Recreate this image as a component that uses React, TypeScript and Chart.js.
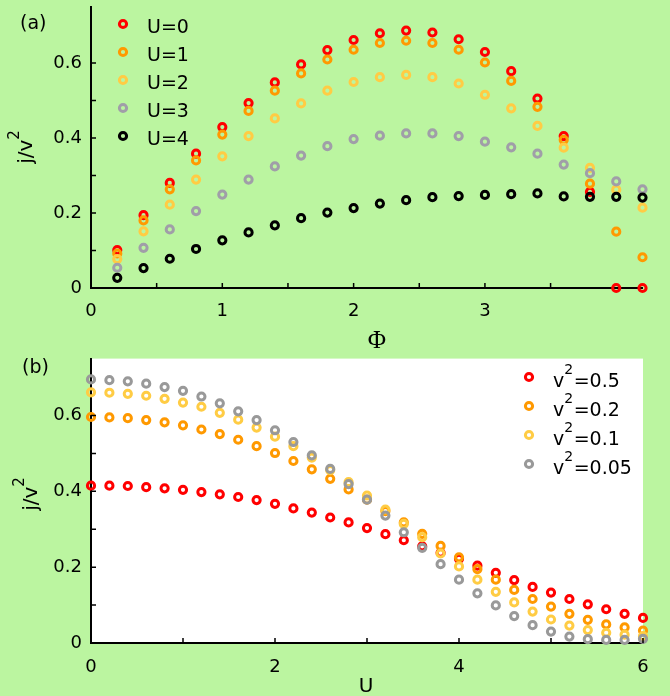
import React, { useEffect, useRef } from 'react';
import { Chart, registerables } from 'chart.js';

Chart.register(...registerables);

// ---------- Panel (a) data ----------
const PHI = [0.2, 0.4, 0.6, 0.8, 1.0, 1.2, 1.4, 1.6, 1.8, 2.0, 2.2, 2.4, 2.6, 2.8, 3.0, 3.2, 3.4, 3.6, 3.8, 4.0, 4.2];
const U_SERIES_LABELS = ['U=0', 'U=1', 'U=2', 'U=3', 'U=4'];
const J_U0 = [0.101, 0.194, 0.280, 0.358, 0.429, 0.493, 0.548, 0.596, 0.634, 0.661, 0.679, 0.686, 0.681, 0.663, 0.629, 0.578, 0.505, 0.405, 0.256, 0.0, 0.0];
const J_U1 = [0.092, 0.180, 0.263, 0.340, 0.409, 0.472, 0.526, 0.572, 0.609, 0.635, 0.653, 0.659, 0.653, 0.635, 0.601, 0.552, 0.483, 0.395, 0.278, 0.150, 0.082];
const J_U2 = [0.077, 0.151, 0.222, 0.289, 0.351, 0.405, 0.452, 0.492, 0.526, 0.549, 0.562, 0.568, 0.562, 0.545, 0.515, 0.479, 0.432, 0.374, 0.320, 0.262, 0.214];
const J_U3 = [0.054, 0.107, 0.156, 0.205, 0.249, 0.289, 0.324, 0.353, 0.378, 0.397, 0.406, 0.412, 0.412, 0.405, 0.390, 0.375, 0.358, 0.329, 0.306, 0.284, 0.263];
const J_U4 = [0.027, 0.053, 0.078, 0.104, 0.127, 0.148, 0.167, 0.186, 0.201, 0.213, 0.225, 0.234, 0.242, 0.245, 0.248, 0.250, 0.252, 0.244, 0.243, 0.243, 0.241];

// ---------- Panel (b) data ----------
const U_VALUES = [0, 0.2, 0.4, 0.6, 0.8, 1.0, 1.2, 1.4, 1.6, 1.8, 2.0, 2.2, 2.4, 2.6, 2.8, 3.0, 3.2, 3.4, 3.6, 3.8, 4.0, 4.2, 4.4, 4.6, 4.8, 5.0, 5.2, 5.4, 5.6, 5.8, 6.0];
const V2_SERIES_LABELS = ['v^2=0.5', 'v^2=0.2', 'v^2=0.1', 'v^2=0.05'];
const J_V05 = [0.415, 0.415, 0.414, 0.411, 0.408, 0.404, 0.398, 0.392, 0.385, 0.377, 0.367, 0.355, 0.344, 0.331, 0.318, 0.303, 0.287, 0.271, 0.255, 0.238, 0.222, 0.204, 0.185, 0.166, 0.148, 0.133, 0.116, 0.102, 0.089, 0.077, 0.066];
const J_V02 = [0.596, 0.595, 0.593, 0.588, 0.582, 0.574, 0.563, 0.551, 0.536, 0.519, 0.501, 0.480, 0.458, 0.433, 0.405, 0.378, 0.348, 0.318, 0.288, 0.256, 0.226, 0.195, 0.167, 0.140, 0.116, 0.096, 0.077, 0.061, 0.049, 0.041, 0.033];
const J_V01 = [0.661, 0.660, 0.657, 0.652, 0.644, 0.634, 0.623, 0.607, 0.589, 0.568, 0.544, 0.519, 0.489, 0.456, 0.424, 0.389, 0.352, 0.314, 0.279, 0.236, 0.202, 0.167, 0.135, 0.107, 0.083, 0.062, 0.046, 0.034, 0.027, 0.022, 0.018];
const J_V005 = [0.695, 0.693, 0.690, 0.684, 0.675, 0.665, 0.650, 0.632, 0.611, 0.588, 0.561, 0.530, 0.495, 0.459, 0.419, 0.378, 0.336, 0.292, 0.251, 0.208, 0.167, 0.131, 0.099, 0.071, 0.047, 0.030, 0.017, 0.010, 0.008, 0.008, 0.011];

// ---------- Tick labels ----------
const Y_TICK_LABELS = ['0', '0.2', '0.4', '0.6'];
const PHI_TICK_LABELS = ['0', '1', '2', '3', '4'];
const U_TICK_LABELS = ['0', '2', '4', '6'];

const BG = '#bbf5a0';
const COLORS_A = ['#ff0000', '#ff9900', '#ffcc44', '#a09ea8', '#000000'];
const COLORS_B = ['#ff0000', '#ff9900', '#ffcc44', '#999999'];
const SANS = '"DejaVu Sans", "Liberation Sans", sans-serif';
const SERIF = '"Liberation Serif", "DejaVu Serif", serif';
const PT_R = 3.6;
const PT_W = 3;

function drawRich(ctx: CanvasRenderingContext2D, text: string, x: number, y: number, size: number, align: 'left' | 'center') {
  const parts: { t: string; sup: boolean }[] = [];
  for (let i = 0; i < text.length; i++) {
    if (text[i] === '^') {
      parts.push({ t: text[i + 1], sup: true });
      i++;
    } else {
      const last = parts[parts.length - 1];
      if (last && !last.sup) last.t += text[i];
      else parts.push({ t: text[i], sup: false });
    }
  }
  const supSize = Math.round(size * 0.76);
  const widths = parts.map((p) => {
    ctx.font = `${p.sup ? supSize : size}px ${SANS}`;
    return ctx.measureText(p.t).width;
  });
  const total = widths.reduce((a, b) => a + b, 0);
  let cx = align === 'center' ? x - total / 2 : x;
  ctx.textAlign = 'left';
  ctx.textBaseline = 'alphabetic';
  parts.forEach((p, i) => {
    ctx.font = `${p.sup ? supSize : size}px ${SANS}`;
    ctx.fillText(p.t, cx, p.sup ? y - size * 0.66 : y);
    cx += widths[i] + (p.sup ? 0.5 : 0);
  });
}

type PanelOpts = {
  white: boolean;
  tag: string;
  tagX: number;
  tagY: number;
  yTitleX: number;
  yTitleY: number;
  xTitle: string;
  xTitleFont: string;
  xTitleX: number;
  xTitleY: number;
  legendX: number;
  legendTextX: number;
  legendRows: number[];
  legendDy: number;
  legendSize: number;
};

function panelPlugin(o: PanelOpts) {
  return {
    id: 'panelDecor',
    beforeDraw(chart: any) {
      if (!o.white) return;
      const { left, right, top, bottom } = chart.chartArea;
      const ctx = chart.ctx;
      ctx.save();
      ctx.fillStyle = '#ffffff';
      ctx.fillRect(left, top, right - left, bottom - top);
      ctx.restore();
    },
    afterDraw(chart: any) {
      const ctx: CanvasRenderingContext2D = chart.ctx;
      const xs = chart.scales.x;
      const ys = chart.scales.y;
      const { left, bottom } = chart.chartArea;
      ctx.save();
      // inward tick marks
      ctx.strokeStyle = '#000';
      ctx.lineWidth = 1.5;
      ctx.beginPath();
      xs.ticks.forEach((t: any) => {
        const px = xs.getPixelForValue(t.value);
        ctx.moveTo(px, bottom);
        ctx.lineTo(px, bottom - 5);
      });
      ys.ticks.forEach((t: any) => {
        const py = ys.getPixelForValue(t.value);
        ctx.moveTo(left, py);
        ctx.lineTo(left + 5, py);
      });
      ctx.stroke();

      // legend
      chart.data.datasets.forEach((ds: any, i: number) => {
        const y = o.legendRows[i];
        ctx.beginPath();
        ctx.arc(o.legendX, y, PT_R, 0, Math.PI * 2);
        ctx.lineWidth = PT_W;
        ctx.strokeStyle = ds.borderColor;
        ctx.stroke();
        ctx.fillStyle = '#000';
        drawRich(ctx, ds.label, o.legendTextX, y + o.legendDy, o.legendSize, 'left');
      });

      // panel tag
      ctx.fillStyle = '#000';
      ctx.font = `19px ${SANS}`;
      ctx.textAlign = 'left';
      ctx.textBaseline = 'alphabetic';
      ctx.fillText(o.tag, o.tagX, o.tagY);

      // y title
      ctx.save();
      ctx.translate(o.yTitleX, o.yTitleY);
      ctx.rotate(-Math.PI / 2);
      drawRich(ctx, 'j/v^2', 0, 0, 20, 'center');
      ctx.restore();

      // x title
      ctx.font = o.xTitleFont;
      ctx.textAlign = 'center';
      ctx.textBaseline = 'alphabetic';
      ctx.fillText(o.xTitle, o.xTitleX, o.xTitleY);
      ctx.restore();
    },
  };
}

function isMultiple(v: number, step: number) {
  const k = v / step;
  return Math.abs(k - Math.round(k)) < 1e-6;
}

function makeConfig(p: {
  xs: number[];
  series: number[][];
  labels: string[];
  colors: string[];
  xMax: number;
  xStep: number;
  xLabel: (v: number) => string;
  xPad: number;
  padding: { left: number; right: number; top: number; bottom: number };
  yWidth: number;
  xHeight: number;
  plugin: any;
}) {
  const tickFont = { family: SANS, size: 18 };
  return {
    type: 'scatter' as const,
    data: {
      datasets: p.series.map((ys, i) => ({
        label: p.labels[i],
        data: p.xs.map((x, k) => ({ x, y: ys[k] })),
        borderColor: p.colors[i],
        backgroundColor: 'rgba(0,0,0,0)',
        pointStyle: 'circle',
        pointRadius: PT_R,
        pointHoverRadius: PT_R,
        pointBorderWidth: PT_W,
        showLine: false,
        clip: false as any,
        order: p.series.length - 1 - i,
      })),
    },
    options: {
      responsive: false,
      animation: false as const,
      devicePixelRatio: 1,
      events: [] as any[],
      layout: { padding: p.padding },
      plugins: { legend: { display: false }, tooltip: { enabled: false } },
      scales: {
        x: {
          type: 'linear' as const,
          min: 0,
          max: p.xMax,
          z: 1,
          afterBuildTicks: (s: any) => {
            s.ticks = s.ticks.filter((t: any) => isMultiple(t.value, p.xStep));
          },
          afterFit: (s: any) => {
            s.height = p.xHeight;
            s.paddingLeft = 0;
            s.paddingRight = 0;
          },
          grid: { drawOnChartArea: false, drawTicks: false },
          border: { display: true, color: '#000', width: 2 },
          ticks: {
            stepSize: p.xStep,
            autoSkip: false,
            maxRotation: 0,
            padding: p.xPad,
            color: '#000',
            font: tickFont,
            callback: (v: any) => p.xLabel(Number(v)),
          },
        },
        y: {
          type: 'linear' as const,
          min: 0,
          max: 0.75,
          z: 1,
          afterBuildTicks: (s: any) => {
            s.ticks = s.ticks.filter((t: any) => isMultiple(t.value, 0.1));
          },
          afterFit: (s: any) => {
            s.width = p.yWidth;
            s.paddingTop = 0;
            s.paddingBottom = 0;
          },
          grid: { drawOnChartArea: false, drawTicks: false },
          border: { display: true, color: '#000', width: 2 },
          ticks: {
            stepSize: 0.1,
            autoSkip: false,
            padding: 9,
            color: '#000',
            font: tickFont,
            callback: (v: any) => {
              const k = Math.round(Number(v) * 10);
              return k % 2 === 0 ? Y_TICK_LABELS[k / 2] ?? '' : '';
            },
          },
        },
      },
    },
    plugins: [p.plugin],
  };
}

export default function App() {
  const refA = useRef<HTMLCanvasElement>(null);
  const refB = useRef<HTMLCanvasElement>(null);

  useEffect(() => {
    const cfgA = makeConfig({
      xs: PHI,
      series: [J_U0, J_U1, J_U2, J_U3, J_U4],
      labels: U_SERIES_LABELS,
      colors: COLORS_A,
      xMax: 4.2,
      xStep: 0.5,
      xLabel: (v) => (isMultiple(v, 1) ? PHI_TICK_LABELS[Math.round(v)] ?? '' : ''),
      xPad: 13,
      padding: { left: 0, right: 27.5, top: 5.6, bottom: 0 },
      yWidth: 91,
      xHeight: 64,
      plugin: panelPlugin({
        white: false,
        tag: '(a)',
        tagX: 20,
        tagY: 29,
        yTitleX: 32,
        yTitleY: 147,
        xTitle: 'Φ',
        xTitleFont: `25px ${SERIF}`,
        xTitleX: 377,
        xTitleY: 348,
        legendX: 123,
        legendTextX: 147,
        legendRows: [24, 52, 80, 108, 136],
        legendDy: 8.5,
        legendSize: 19,
      }),
    });
    const cfgB = makeConfig({
      xs: U_VALUES,
      series: [J_V05, J_V02, J_V01, J_V005],
      labels: V2_SERIES_LABELS,
      colors: COLORS_B,
      xMax: 6,
      xStep: 1,
      xLabel: (v) => (isMultiple(v, 2) ? U_TICK_LABELS[Math.round(v / 2)] ?? '' : ''),
      xPad: 14,
      padding: { left: 0, right: 27, top: 1, bottom: 0 },
      yWidth: 91,
      xHeight: 53,
      plugin: panelPlugin({
        white: true,
        tag: '(b)',
        tagX: 22,
        tagY: 21,
        yTitleX: 37,
        yTitleY: 142,
        xTitle: 'U',
        xTitleFont: `20px ${SANS}`,
        xTitleX: 366,
        xTitleY: 340,
        legendX: 529,
        legendTextX: 553,
        legendRows: [25, 54, 83, 112],
        legendDy: 9.5,
        legendSize: 19,
      }),
    });
    const a = new Chart(refA.current as HTMLCanvasElement, cfgA as any);
    const b = new Chart(refB.current as HTMLCanvasElement, cfgB as any);
    return () => {
      a.destroy();
      b.destroy();
    };
  }, []);

  return (
    <div
      style={{
        position: 'fixed',
        left: 0,
        top: 0,
        width: 670,
        height: 696,
        background: BG,
        overflow: 'hidden',
      }}
    >
      <canvas
        ref={refA}
        width={670}
        height={352}
        style={{ position: 'absolute', left: 0, top: 0, width: 670, height: 352 }}
      />
      <canvas
        ref={refB}
        width={670}
        height={344}
        style={{ position: 'absolute', left: 0, top: 352, width: 670, height: 344 }}
      />
    </div>
  );
}
